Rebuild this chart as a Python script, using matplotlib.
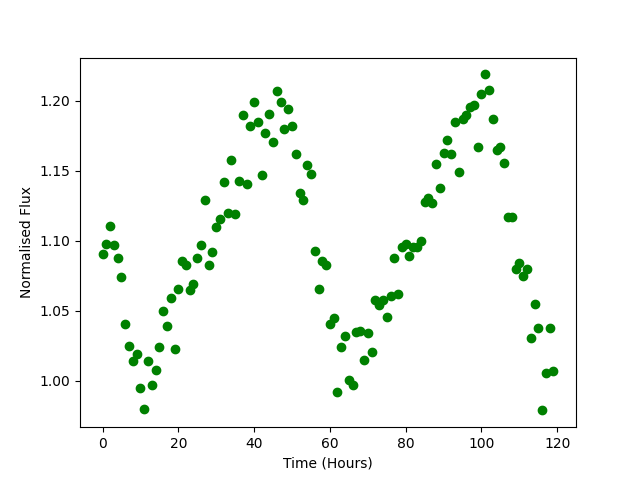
import matplotlib
matplotlib.use("Agg")
import matplotlib.pyplot as plt
import numpy as np

time_hours = list(range(120))
flux = [
    1.091, 1.098, 1.111, 1.097, 1.088, 1.074, 1.041, 1.025, 1.014, 1.019,
    0.995, 0.980, 1.014, 0.997, 1.008, 1.024, 1.050, 1.039, 1.059, 1.023,
    1.066, 1.086, 1.083, 1.065, 1.069, 1.088, 1.097, 1.129, 1.083, 1.092,
    1.110, 1.116, 1.142, 1.120, 1.158, 1.119, 1.143, 1.190, 1.141, 1.182,
    1.199, 1.185, 1.147, 1.177, 1.191, 1.171, 1.207, 1.199, 1.180, 1.194,
    1.182, 1.162, 1.134, 1.129, 1.154, 1.148, 1.093, 1.066, 1.086, 1.083,
    1.041, 1.045, 0.992, 1.024, 1.032, 1.001, 0.997, 1.035, 1.036, 1.015,
    1.034, 1.021, 1.058, 1.054, 1.058, 1.046, 1.061, 1.088, 1.062, 1.096,
    1.098, 1.089, 1.096, 1.096, 1.100, 1.128, 1.131, 1.127, 1.155, 1.138,
    1.163, 1.172, 1.162, 1.185, 1.149, 1.187, 1.190, 1.196, 1.197, 1.167,
    1.205, 1.219, 1.208, 1.187, 1.165, 1.167, 1.156, 1.117, 1.117, 1.080,
    1.084, 1.075, 1.080, 1.031, 1.055, 1.038, 0.979, 1.006, 1.038, 1.007,
]

fig = plt.figure(figsize=(6.4, 4.8), dpi=100)
plt.plot(time_hours, flux, 'go')
plt.xlabel('Time (Hours)')
plt.ylabel('Normalised Flux')
plt.savefig('out.png', dpi=100)
